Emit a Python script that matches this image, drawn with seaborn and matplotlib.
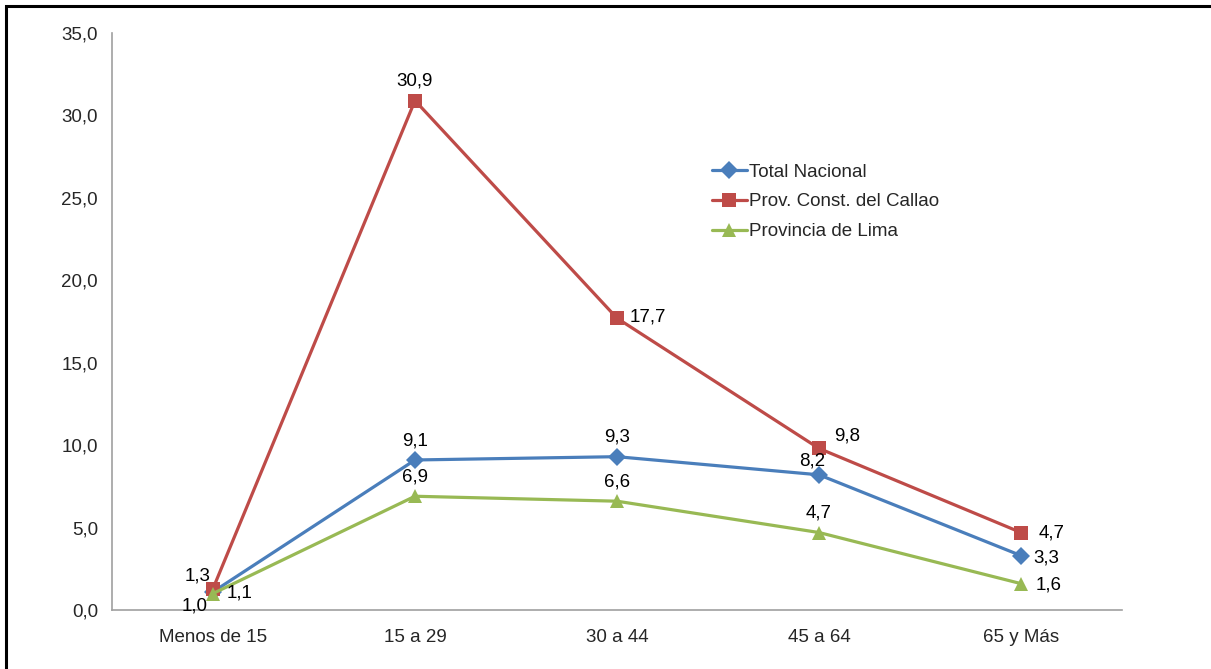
import matplotlib
matplotlib.use('Agg')
import matplotlib.pyplot as plt
import matplotlib.patches as mpatches
from matplotlib.ticker import FixedLocator, FuncFormatter
import seaborn as sns
import pandas as pd

grupos = ['Menos de 15', '15 a 29', '30 a 44', '45 a 64', '65 y Más']
total_nacional = [1.1, 9.1, 9.3, 8.2, 3.3]
callao = [1.3, 30.9, 17.7, 9.8, 4.7]
prov_lima = [1.0, 6.9, 6.6, 4.7, 1.6]
series = ['Total Nacional', 'Prov. Const. del Callao', 'Provincia de Lima']

# where each data label sits, in points from the marker
offsets = {
  'Total Nacional': [(19, -1), (0, 14), (0, 14), (-5, 10), (18, -2)],
  'Prov. Const. del Callao': [(-11, 9), (0, 14), (22, 1), (20, 9), (22, 0)],
  'Provincia de Lima': [(-13, -9), (0, 14), (0, 14), (0, 14), (20, -1)],
}

rows = []
for name, vals in zip(series, [total_nacional, callao, prov_lima]):
  for g, v in zip(grupos, vals):
    rows.append({'grupo': g, 'valor': v, 'serie': name})
df = pd.DataFrame(rows)

sns.set_style('white')
plt.rcParams['font.family'] = ['Liberation Sans Narrow', 'Liberation Sans', 'DejaVu Sans']

colores = {'Total Nacional': '#4A7EBB', 'Prov. Const. del Callao': '#BE4B48', 'Provincia de Lima': '#98B954'}
marcas = {'Total Nacional': 'D', 'Prov. Const. del Callao': 's', 'Provincia de Lima': '^'}

fig = plt.figure(figsize=(12.11, 6.69), dpi=100)
ax = fig.add_axes([112/1211, 1-610/669, 1010/1211, 577/669])

sns.lineplot(data=df, x='grupo', y='valor', hue='serie', style='serie',
             palette=colores, markers=marcas, dashes=False, linewidth=2.3,
             markersize=9.5, markeredgewidth=0, sort=False, ax=ax)

for name in series:
  sub = df[df['serie'] == name].reset_index(drop=True)
  for i, r in sub.iterrows():
    ax.annotate(f"{r['valor']:.1f}".replace('.', ','), (i, r['valor']),
                xytext=offsets[name][i], textcoords='offset points',
                ha='center', va='center', fontsize=13.5, color='black')

ax.set_xlim(-0.5, 4.5)
ax.set_ylim(0, 35)
ax.set_yticks([0, 5, 10, 15, 20, 25, 30, 35])
ax.yaxis.set_major_formatter(FuncFormatter(lambda v, p: f'{v:.1f}'.replace('.', ',')))
ax.xaxis.set_minor_locator(FixedLocator([-0.5, 0.5, 1.5, 2.5, 3.5, 4.5]))
ax.tick_params(axis='x', which='major', length=0, pad=14, labelsize=13.5)
ax.tick_params(axis='x', which='minor', length=6, width=1, color='#A0A0A0', direction='out')
ax.tick_params(axis='y', length=6, width=1, color='#A0A0A0', direction='out', pad=4, labelsize=13.5)
ax.set_xlabel('')
ax.set_ylabel('')
for s in ['top', 'right']:
  ax.spines[s].set_visible(False)
for s in ['left', 'bottom']:
  ax.spines[s].set_color('#A0A0A0')
  ax.spines[s].set_linewidth(1.2)

handles, labels = ax.get_legend_handles_labels()
ax.legend(handles, labels, loc='upper left', bbox_to_anchor=(592/1010, 1-123/577),
          frameon=False, fontsize=13.5, handlelength=1.9, handletextpad=0.1,
          labelspacing=0.68, borderaxespad=0)

# outer frame of the chart, cut off at right and bottom
fig.patches.append(mpatches.Rectangle((6/1211, -0.1), 1.2, 1-6/669+0.1, transform=fig.transFigure,
                                      fill=False, edgecolor='black', linewidth=2.2))

fig.savefig('out.png', dpi=100)
